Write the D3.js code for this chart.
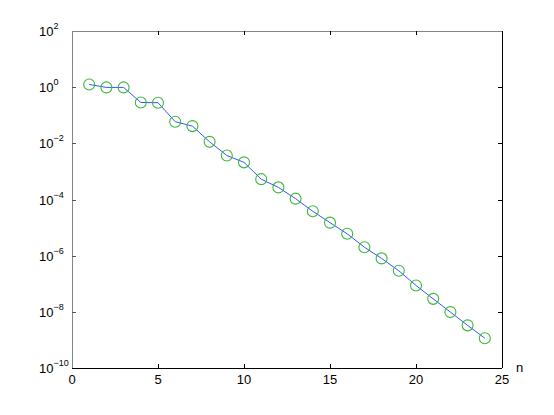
<!DOCTYPE html>
<html>
<head>
<meta charset="utf-8">
<script src="https://cdn.jsdelivr.net/npm/d3@7"></script>
<style>
  body { margin: 0; background: #fff; }
  text { font-family: "Liberation Sans", Arial, sans-serif; }
</style>
</head>
<body>
<div id="chart"></div>
<script>
// values
var nValues = [1, 2, 3, 4, 5, 6, 7, 8, 9, 10, 11, 12, 13, 14, 15, 16, 17, 18, 19, 20, 21, 22, 23, 24];
var errValues = [1.25, 0.98, 0.98, 0.285, 0.28, 0.059, 0.041, 0.0113, 0.0037, 0.0021,
    5.3e-4, 2.7e-4, 1.07e-4, 3.8e-5, 1.5e-5, 6e-6, 2e-6, 8e-7, 2.9e-7, 8.7e-8,
    2.9e-8, 9.8e-9, 3.3e-9, 1.15e-9];
var xTicks = [0, 5, 10, 15, 20, 25];
var yTickExps = [2, 0, -2, -4, -6, -8, -10];
var xLabel = "n";

var width = 554, height = 415;
// plot box (note: "top" is taken by window.top)
var boxL = 72, boxR = 502, boxT = 31, boxB = 368;

var svg = d3.select("#chart")
    .append("svg")
    .attr("width", width)
    .attr("height", height);

var x = d3.scaleLinear().domain([0, 25]).range([boxL, boxR]);
var y = d3.scaleLog().domain([1e-10, 1e2]).range([boxB, boxT]);

// frame: top/left grey, bottom/right black
var frame = svg.append("g").attr("shape-rendering", "crispEdges");
frame.append("line").attr("x1", boxL).attr("x2", boxR).attr("y1", boxT).attr("y2", boxT)
    .attr("stroke", "#858585");
frame.append("line").attr("x1", boxL).attr("x2", boxL).attr("y1", boxT).attr("y2", boxB)
    .attr("stroke", "#858585");
frame.append("line").attr("x1", boxL).attr("x2", boxR).attr("y1", boxB).attr("y2", boxB)
    .attr("stroke", "#000");
frame.append("line").attr("x1", boxR).attr("x2", boxR).attr("y1", boxT).attr("y2", boxB)
    .attr("stroke", "#000");

// inward ticks on all four sides
var yTickVals = yTickExps.map(function (e) { return Math.pow(10, e); });
var axes = [
    d3.axisBottom(x).tickValues(xTicks).tickSize(4),
    d3.axisTop(x).tickValues(xTicks).tickSize(4),
    d3.axisLeft(y).tickValues(yTickVals).tickSize(4),
    d3.axisRight(y).tickValues(yTickVals).tickSize(4)
];
var offsets = ["translate(0," + (boxB - 4) + ")", "translate(0," + (boxT + 4) + ")",
    "translate(" + (boxL + 4) + ",0)", "translate(" + (boxR - 4) + ",0)"];
var tickColors = ["#000", "#000", "#555", "#000"];
axes.forEach(function (ax, i) {
    var g = svg.append("g")
        .attr("transform", offsets[i])
        .attr("shape-rendering", "crispEdges")
        .call(ax.tickFormat(""));
    g.select(".domain").remove();
    g.selectAll(".tick line").attr("stroke", tickColors[i]);
    // drop the ticks that sit on the frame corners
    g.selectAll(".tick")
        .filter(function (d) { return (i < 2 && (d === 0 || d === 25)) || (i >= 2 && (d === 1e2 || d === 1e-10)); })
        .remove();
});

// x tick labels
svg.append("g").selectAll("text")
    .data(xTicks)
    .join("text")
    .attr("x", function (d) { return x(d); })
    .attr("y", boxB + 16)
    .attr("text-anchor", "middle")
    .attr("font-size", 13)
    .text(function (d) { return d; });

// y tick labels: 10^k, left aligned
var yl = svg.append("g").selectAll("text")
    .data(yTickExps)
    .join("text")
    .attr("x", 39)
    .attr("y", function (d) { return y(Math.pow(10, d)) + 5; })
    .attr("font-size", 13);
yl.append("tspan").text("10");
yl.append("tspan")
    .attr("dy", -7)
    .attr("font-size", 9)
    .text(function (d) { return d < 0 ? "\u2212" + (-d) : d; });

svg.append("text")
    .attr("x", 516)
    .attr("y", 372)
    .attr("font-size", 13)
    .text(xLabel);

// data line and markers
var pts = nValues.map(function (n, i) { return [n, errValues[i]]; });
var line = d3.line()
    .x(function (d) { return x(d[0]); })
    .y(function (d) { return y(d[1]); });

svg.append("path")
    .datum(pts)
    .attr("d", line)
    .attr("fill", "none")
    .attr("stroke", "#3355ff")
    .attr("stroke-width", 1);

svg.append("g").selectAll("circle")
    .data(pts)
    .join("circle")
    .attr("cx", function (d) { return x(d[0]); })
    .attr("cy", function (d) { return y(d[1]); })
    .attr("r", 5.5)
    .attr("fill", "none")
    .attr("stroke", "#3cb83c")
    .attr("stroke-width", 1.1);
</script>
</body>
</html>
